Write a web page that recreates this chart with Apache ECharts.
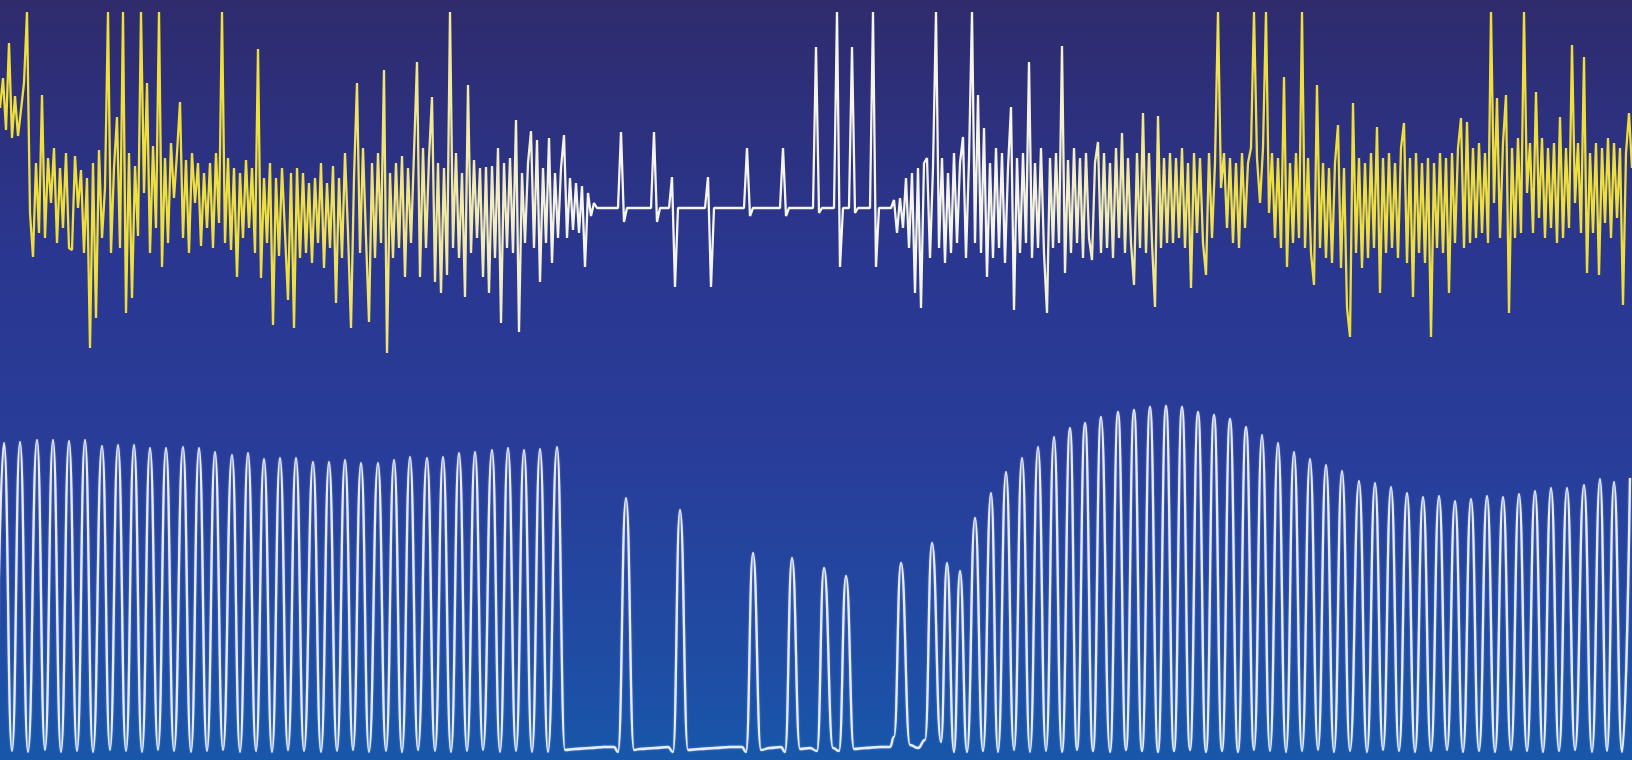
<!DOCTYPE html>
<html>
<head>
<meta charset="utf-8">
<title>EEG / respiration trace</title>
<script src="https://cdn.jsdelivr.net/npm/echarts@6.0.0/dist/echarts.min.js"></script>
<style>
  html, body { margin: 0; padding: 0; background: #283a94; }
  #chart { width: 1632px; height: 760px; }
</style>
</head>
<body>
<div id="chart"></div>
<script>
// top trace (EEG), one value every 3 samples
const eegStep = 3;
const eegValues = [
  100, 130, 78, 165, 70, 112, 72, 98, 125, 196,
  -5, -49, 45, -25, 113, -30, 50, 5, 60, -35,
  40, -20, 55, -40, -42, 52, 0, 38, -45, 30,
  -140, 45, -110, 58, -30, 20, 196, -45, 40, 91,
  -40, 196, -105, 55, -90, 42, -28, 196, 15, 125,
  -45, 62, -20, 196, -59, 50, -35, 65, 10, 55,
  106, -30, 48, -45, 55, 5, 45, -38, 35, -20,
  45, -40, 55, -15, 196, -35, 50, -42, 40, -69,
  35, -30, 48, -20, 40, -45, 159, -70, 30, -35,
  45, -117, 30, -48, 40, -25, -92, 35, -120, 40,
  -50, 35, -45, 25, -55, 30, -35, 45, -60, 25,
  -40, 42, -95, 30, -50, 55, -25, -120, 30, 125,
  -45, 60, -30, -114, 45, -50, 55, -35, 138, -145,
  35, -50, 45, -40, 52, -69, 40, -35, 55, 146,
  -69, 60, -40, 50, 111, -74, 45, -85, 40, -67,
  196, -40, 55, -50, 35, -89, 123, -45, 48, -30,
  40, -69, 41, -85, 42, -50, 60, -115, 45, -40,
  50, -45, 88, -124, 35, -35, 45, 77, -40, 68,
  -74, 40, -35, 70, -55, 35, -30, 40, 73, -30,
  30, -22, 25, -25, 22, -59, 15, -8, 5, 0,
  0, 0, 0, 0, 0, 0, 0, 76, -14, 0,
  0, 0, 0, 0, 0, 0, 0, 0, 76, -14,
  0, 0, 0, 0, 31, -79, 0, 0, 0, 0,
  0, 0, 0, 0, 0, 0, 31, -79, 0, 0,
  0, 0, 0, 0, 0, 0, 0, 0, 0, 60,
  -8, 0, 0, 0, 0, 0, 0, 0, 0, 0,
  0, 60, -8, 0, 0, 0, 0, 0, 0, 0,
  0, 0, 161, -5, 0, 0, 0, 0, 0, 196,
  -59, 0, 0, 0, 161, -5, 0, 0, 0, 0,
  0, 196, -59, 0, 0, 0, 0, 0, 8, -25,
  10, -20, 30, -40, 35, -85, 40, -100, 45, 50,
  -50, 40, 196, -40, 50, -55, 35, -45, 55, -35,
  45, 71, -50, 48, 196, -35, 113, -45, 80, -69,
  45, -50, 60, -40, 55, -55, 40, 101, -102, 50,
  -45, 55, -35, 146, -50, 45, -40, 60, -45, -105,
  50, -40, 55, -35, 162, -65, 48, -45, 60, -35,
  50, -50, 55, -30, -52, 45, 66, -45, 55, -40,
  45, -50, 60, -30, 75, -45, 50, -35, -77, 55,
  -40, 95, -45, 55, -35, -99, 92, -40, 50, -35,
  55, -35, 50, -30, 60, -40, 45, -80, 55, -25,
  50, -35, -67, 55, -30, 45, 196, 20, 55, -20,
  50, -35, 45, -40, 55, -20, 45, 60, 196, 50,
  5, 60, 196, -5, 55, -30, 50, -40, 131, -59,
  45, -35, 55, -30, 196, -40, 50, -45, -77, 123,
  -40, 45, -50, 40, -55, 45, 83, -60, 40, -100,
  -129, 105, -45, 50, -60, 45, -50, 55, -40, 81,
  -85, 50, -45, 55, -40, 45, -50, 60, 85, -55,
  50, -89, 55, -45, 45, -55, 50, -129, 45, -40,
  55, -45, 50, -85, 55, -35, 60, 90, -40, 86,
  -35, 60, -30, 65, -25, 55, -35, 196, 5, 110,
  -30, 65, 113, -105, 60, -30, 70, -25, 196, 15,
  65, -25, 116, -10, 70, -30, 60, -20, 65, -35,
  91, -30, 60, -20, 163, 5, 65, -25, 151, -65,
  55, -25, 65, -67, 60, -15, 70, -30, 65, -10,
  60, -97, 55, 95, 40
];

// bottom trace (respiration): breath peaks
const respPeakT = [
  4, 20, 37, 53, 69, 85, 102, 118, 134, 150, 166, 183, 199, 215, 232, 248, 264, 280,
  296, 313, 329, 345, 361, 378, 394, 410, 427, 443, 459, 475, 492, 508, 524, 540, 557,
  626, 680, 753, 792, 824, 846, 901, 932, 947, 960,
  975, 991, 1006, 1022, 1038, 1054, 1070, 1085, 1101, 1118, 1134, 1150, 1166, 1182,
  1198, 1214, 1230, 1246, 1262, 1278, 1294, 1310, 1326, 1342, 1359, 1375, 1391, 1407,
  1423, 1439, 1455, 1471, 1487, 1503, 1519, 1535, 1551, 1567, 1584, 1600, 1614, 1630
];
const respPeakV = [
  309, 310, 312, 312, 311, 312, 306, 307, 307, 304, 304, 305, 304, 300, 297, 299, 293, 294,
  294, 290, 290, 292, 289, 289, 292, 295, 294, 295, 299, 300, 302, 304, 302, 303, 305,
  254, 242, 199, 194, 184, 176, 189, 209, 189, 181,
  234, 259, 280, 294, 305, 315, 324, 329, 335, 340, 342, 345, 346, 345,
  340, 337, 333, 325, 317, 309, 300, 293, 287, 281, 271, 269, 265, 259,
  255, 256, 251, 253, 256, 255, 258, 261, 264, 264, 267, 273, 270, 274
];
// troughs and flat stretches between breaths
const respBaseT = [
  -4, 12, 28, 45, 61, 77, 93, 110, 126, 142, 158, 174, 191, 207, 223, 240, 256, 272, 288,
  304, 321, 337, 353, 369, 386, 402, 418, 435, 451, 467, 483, 500, 516, 532, 548, 565,
  575, 590, 604, 614, 618, 634, 640, 655, 668, 673, 688, 700, 715, 730, 742, 746,
  761, 770, 781, 785, 800, 810, 817, 833, 839, 854, 865, 880, 890, 894,
  910, 918, 925, 941, 954, 967,
  983, 998, 1014, 1030, 1046, 1062, 1077, 1093, 1110, 1126, 1142, 1158, 1174, 1190,
  1206, 1222, 1238, 1254, 1270, 1286, 1302, 1318, 1334, 1350, 1367, 1383, 1399, 1415,
  1431, 1447, 1463, 1479, 1495, 1511, 1527, 1543, 1559, 1575, 1592, 1607, 1622, 1638
];
const respBaseV = [
  0, 1, 0, 2, 0, 1, 0, 2, 1, 0, 2, 1, 0, 1, 2, 0, 1, 0, 2,
  1, 0, 1, 2, 0, 1, 0, 2, 1, 0, 1, 2, 0, 1, 0, 0,
  2, 3, 4, 5, 5, 0, 2, 3, 4, 5, 0, 2, 3, 4, 5, 5,
  0, 2, 4, 5, 0, 3, 4, 1, 4, 1, 3, 4, 5, 5,
  15, 7, 4, 12, 10, 0,
  0, 1, 0, 2, 0, 1, 0, 2, 1, 0, 2, 1, 0, 1,
  2, 0, 1, 0, 2, 1, 0, 1, 2, 0, 1, 0, 2, 1,
  0, 1, 2, 0, 1, 0, 2, 1, 0, 1, 2, 0, 1, 0
];

const eegData = eegValues.map((v, i) => [i * eegStep, v]);
const respData = respPeakT.map((t, i) => [t, respPeakV[i]])
  .concat(respBaseT.map((t, i) => [t, respBaseV[i]]))
  .sort((a, b) => a[0] - b[0]);

const chart = echarts.init(document.getElementById('chart'));
const option = {
  animation: false,
  backgroundColor: new echarts.graphic.LinearGradient(0, 0, 0, 1, [
    { offset: 0, color: '#2f2b6d' },
    { offset: 0.35, color: '#2a3791' },
    { offset: 0.6, color: '#283d99' },
    { offset: 0.85, color: '#204ba3' },
    { offset: 1, color: '#1757aa' },
  ]),
  grid: [
    { left: 0, right: 0, top: 0, height: 360 },
    { left: 0, right: 0, top: 380, height: 380 },
  ],
  xAxis: [
    { type: 'value', gridIndex: 0, min: 0, max: 1632, show: false },
    { type: 'value', gridIndex: 1, min: 0, max: 1632, show: false },
  ],
  yAxis: [
    { type: 'value', gridIndex: 0, min: -152, max: 208, show: false },
    { type: 'value', gridIndex: 1, min: -8, max: 372, show: false },
  ],
  series: [
    {
      type: 'line',
      xAxisIndex: 0,
      yAxisIndex: 0,
      data: eegData,
      symbol: 'none',
      silent: true,
      lineStyle: {
        width: 2.3,
        color: new echarts.graphic.LinearGradient(0, 0, 1, 0, [
          { offset: 0, color: '#efdf3a' },
          { offset: 0.18, color: '#f0e03c' },
          { offset: 0.24, color: '#f1e57a' },
          { offset: 0.30, color: '#f3edb8' },
          { offset: 0.35, color: '#f6f5ea' },
          { offset: 0.62, color: '#f6f5e8' },
          { offset: 0.68, color: '#f3edb0' },
          { offset: 0.73, color: '#f1e35a' },
          { offset: 0.78, color: '#efdf3a' },
          { offset: 1, color: '#efdf3a' },
        ]),
      },
    },
    {
      type: 'line',
      xAxisIndex: 1,
      yAxisIndex: 1,
      data: respData,
      smooth: 0.5,
      smoothMonotone: 'x',
      symbol: 'none',
      silent: true,
      lineStyle: {
        width: 2.3,
        color: '#e9eeff',
        shadowColor: 'rgba(200,215,255,0.5)',
        shadowBlur: 2,
      },
    },
  ],
};
chart.setOption(option);
</script>
</body>
</html>
